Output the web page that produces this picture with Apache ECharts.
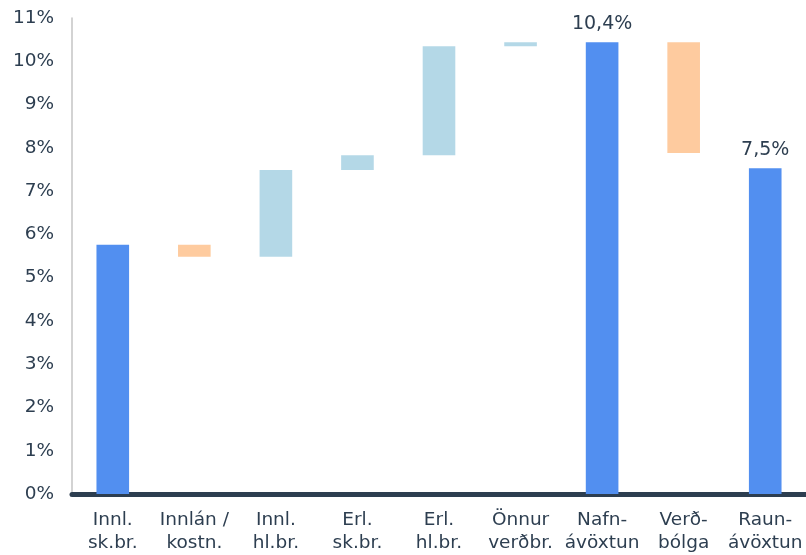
<!DOCTYPE html>
<html>
<head>
<meta charset="utf-8">
<script src="https://cdn.jsdelivr.net/npm/echarts@6/dist/echarts.min.js"></script>
<style>
    html, body { margin: 0; padding: 0; background: #fff; }
    #chart { width: 806px; height: 555px; }
</style>
</head>
<body>
<div id="chart"></div>
<script>
    // flokkar og gildi (%) lesin af myndinni
    var categories = ['Innl.\nsk.br.', 'Innlán /\nkostn.', 'Innl.\nhl.br.', 'Erl.\nsk.br.', 'Erl.\nhl.br.', 'Önnur\nverðbr.', 'Nafn-\návöxtun', 'Verð-\nbólga', 'Raun-\návöxtun'];
    var lows  = [0,    5.48, 5.48, 7.49, 7.83, 10.35, 0,     7.88,  0];
    var highs = [5.76, 5.76, 7.49, 7.83, 10.35, 10.44, 10.44, 10.44, 7.53];
    var kinds = ['total', 'down', 'up', 'up', 'up', 'up', 'total', 'down', 'total'];
    var labels = ['', '', '', '', '', '', '10,4%', '', '7,5%'];
    var yTicks = [0, 1, 2, 3, 4, 5, 6, 7, 8, 9, 10, 11];

    var colors = {total: '#528ff0', up: '#b4d8e7', down: '#fecb9f'};
    var textColor = '#2d3e50';
    var font = 'DejaVu Sans';

    var baseData = lows.map(function (v) { return v; });
    var barData = highs.map(function (h, i) {
        return {
            value: +(h - lows[i]).toFixed(2),
            itemStyle: {color: colors[kinds[i]]},
            label: {show: labels[i] !== '', formatter: labels[i]}
        };
    });

    var chart = echarts.init(document.getElementById('chart'));
    var option = {
        animation: false,
        grid: {left: 72, right: 0, top: 18, bottom: 60, containLabel: false},
        xAxis: {
            type: 'category',
            data: categories,
            axisTick: {show: false},
            axisLine: {lineStyle: {color: textColor, width: 5}},
            axisLabel: {
                interval: 0,
                color: textColor,
                fontFamily: font,
                fontSize: 18.5,
                lineHeight: 23,
                margin: 15
            }
        },
        yAxis: {
            type: 'value',
            min: yTicks[0],
            max: yTicks[yTicks.length - 1],
            interval: 1,
            splitLine: {show: false},
            axisTick: {show: false},
            axisLine: {show: true, lineStyle: {color: '#c4c4c4', width: 1.5}},
            axisLabel: {
                color: textColor,
                fontFamily: font,
                fontSize: 18.5,
                margin: 18,
                formatter: '{value}%'
            }
        },
        series: [
            {
                type: 'bar',
                stack: 'w',
                silent: true,
                itemStyle: {color: 'transparent'},
                data: baseData
            },
            {
                type: 'bar',
                stack: 'w',
                barWidth: '40%',
                label: {
                    position: 'top',
                    distance: 9,
                    color: textColor,
                    fontFamily: font,
                    fontSize: 19
                },
                data: barData
            }
        ]
    };
    chart.setOption(option);
</script>
</body>
</html>
